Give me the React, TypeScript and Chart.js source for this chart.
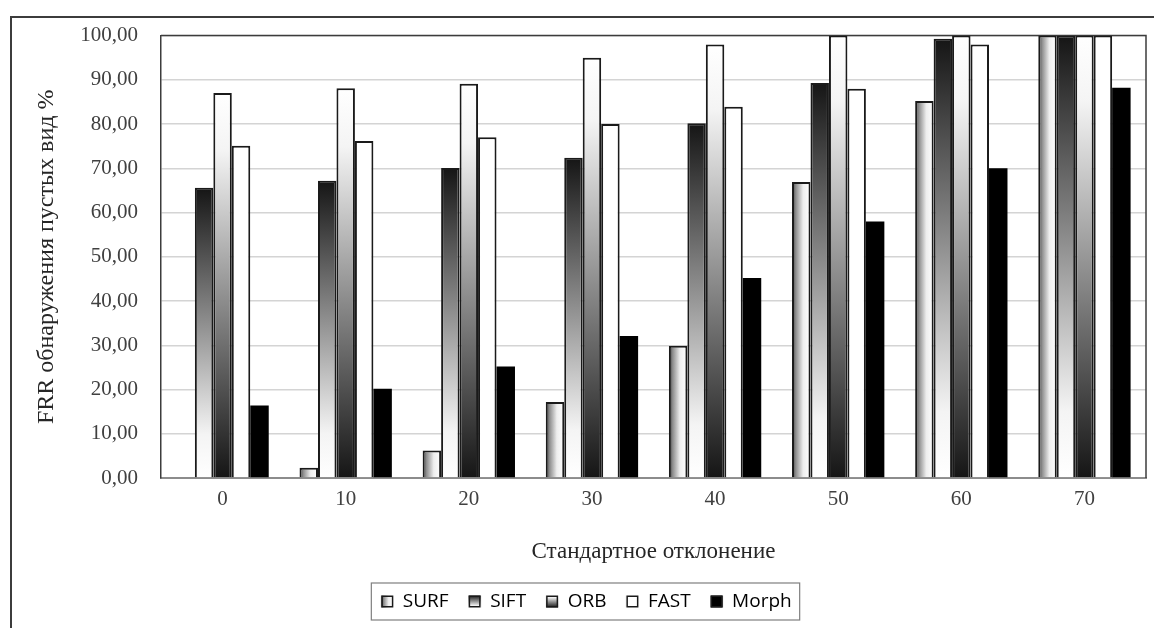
import React, { useEffect, useRef } from "react";
import { Chart, registerables } from "chart.js";

Chart.register(...registerables);

// Standard deviation of the added noise (x axis)
const categories = ["0", "10", "20", "30", "40", "50", "60", "70"];

// FRR, % for each detector
const surfValues = [0, 2.3, 6.2, 17.2, 29.9, 66.9, 85.2, 100];
const siftValues = [65.6, 67.2, 70.1, 72.4, 80.2, 89.3, 99.3, 100];
const orbValues = [87.0, 88.1, 89.1, 95.0, 98.0, 100, 100, 100];
const fastValues = [75.1, 76.2, 77.0, 80.0, 83.9, 88.0, 98.0, 100];
const morphValues = [16.4, 20.2, 25.2, 32.1, 45.2, 58.0, 70.0, 88.2];

const seriesNames = ["SURF", "SIFT", "ORB", "FAST", "Morph"];
const yTicks = [0, 10, 20, 30, 40, 50, 60, 70, 80, 90, 100];

const CAT_PCT = 0.75;
const LEGEND_SHIFT = 8;
const SERIF = "'Liberation Serif', 'Times New Roman', serif";
const SANS = "'Open Sans', 'Noto Sans', sans-serif";

type FillKind = "surf" | "sift" | "orb" | "fast" | "morph";
const kinds: FillKind[] = ["surf", "sift", "orb", "fast", "morph"];

function makeFill(
  ctx: CanvasRenderingContext2D,
  kind: FillKind,
  x0: number,
  y0: number,
  x1: number,
  y1: number
): string | CanvasGradient {
  if (kind === "morph") return "#000000";
  if (kind === "fast") return "#ffffff";
  if (![x0, y0, x1, y1].every((v) => Number.isFinite(v))) return "#bbbbbb";
  if (kind === "surf") {
    const g = ctx.createLinearGradient(x0, 0, x1, 0);
    g.addColorStop(0, "#3a3a3a");
    g.addColorStop(0.2, "#8c8c8c");
    g.addColorStop(0.6, "#eeeeee");
    g.addColorStop(1, "#ffffff");
    return g;
  }
  const g = ctx.createLinearGradient(0, y0, 0, y1);
  if (kind === "sift") {
    g.addColorStop(0, "#151515");
    g.addColorStop(0.45, "#8a8a8a");
    g.addColorStop(0.85, "#f4f4f4");
    g.addColorStop(1, "#ffffff");
  } else {
    g.addColorStop(0, "#ffffff");
    g.addColorStop(0.15, "#f4f4f4");
    g.addColorStop(0.55, "#8a8a8a");
    g.addColorStop(1, "#151515");
  }
  return g;
}

function barFill(kind: FillKind) {
  return (c: any) => {
    const chart = c.chart;
    const xs = chart.scales?.x;
    const ys = chart.scales?.y;
    if (!xs || !ys || c.type !== "data") return "#bbbbbb";
    const v = c.parsed ? c.parsed.y : c.raw;
    const top = ys.getPixelForValue(v);
    const base = ys.getPixelForValue(0);
    const catW = (xs.right - xs.left) / categories.length;
    const group = catW * CAT_PCT;
    const slot = group / seriesNames.length;
    const center = xs.getPixelForValue(c.dataIndex);
    const left = center - group / 2 + slot * c.datasetIndex;
    return makeFill(chart.ctx, kind, left, top, left + slot, base);
  };
}

const framePlugin = {
  id: "frames",
  afterLayout(chart: any) {
    // nudge the legend block to the right
    const legend = chart.legend;
    if (legend) {
      legend.left += LEGEND_SHIFT;
      legend.right += LEGEND_SHIFT;
    }
  },
  beforeDraw(chart: any) {
    const { ctx, width, height } = chart;
    ctx.save();
    ctx.fillStyle = "#ffffff";
    ctx.fillRect(0, 0, width, height);
    // outer chart border
    ctx.strokeStyle = "#3c3c3c";
    ctx.lineWidth = 2;
    ctx.beginPath();
    ctx.moveTo(11, height);
    ctx.lineTo(11, 17);
    ctx.lineTo(width, 17);
    ctx.stroke();
    ctx.restore();
  },
  beforeDatasetsDraw(chart: any) {
    const { ctx, chartArea } = chart;
    ctx.save();
    ctx.strokeStyle = "#3c3c3c";
    ctx.lineWidth = 1.5;
    ctx.beginPath();
    ctx.moveTo(chartArea.left, chartArea.top);
    ctx.lineTo(chartArea.right, chartArea.top);
    ctx.lineTo(chartArea.right, chartArea.bottom);
    ctx.stroke();
    ctx.restore();
  },
  afterDraw(chart: any) {
    const legend = chart.legend;
    if (!legend || !legend.legendHitBoxes || !legend.legendHitBoxes.length) return;
    const { ctx } = chart;
    const boxes = legend.legendHitBoxes;
    const bw = legend.options.labels.boxWidth;
    const bh = legend.options.labels.boxHeight;
    ctx.save();
    boxes.forEach((hb: any, i: number) => {
      const x = hb.left;
      const y = hb.top + (hb.height - bh) / 2;
      ctx.fillStyle = "#ffffff";
      ctx.fillRect(x - 1, y - 1, bw + 2, bh + 2);
      ctx.fillStyle = makeFill(ctx, kinds[i], x, y, x + bw, y + bh);
      ctx.fillRect(x, y, bw, bh);
      ctx.strokeStyle = "#1a1a1a";
      ctx.lineWidth = 1.5;
      ctx.strokeRect(x + 0.75, y + 0.75, bw - 1.5, bh - 1.5);
    });
    // legend frame
    const first = boxes[0];
    const last = boxes[boxes.length - 1];
    const fx = first.left - 10;
    const fr = last.left + last.width + 8;
    const fy = first.top - 9;
    const fb = first.top + first.height + 9;
    ctx.strokeStyle = "#7f7f7f";
    ctx.lineWidth = 1.2;
    ctx.strokeRect(fx, fy, fr - fx, fb - fy);
    ctx.restore();
  },
};

export default function App() {
  const ref = useRef<HTMLCanvasElement>(null);

  useEffect(() => {
    if (!ref.current) return;
    const seriesValues = [surfValues, siftValues, orbValues, fastValues, morphValues];
    const chart = new Chart(ref.current, {
      type: "bar",
      data: {
        labels: categories,
        datasets: seriesNames.map((name, i) => ({
          label: name,
          data: seriesValues[i],
          backgroundColor: barFill(kinds[i]),
          borderColor: i === 4 ? "#000000" : "#1a1a1a",
          borderWidth: i === 4 ? 0 : 2,
          borderSkipped: "bottom",
          categoryPercentage: CAT_PCT,
          barPercentage: 1,
        })),
      },
      options: {
        responsive: false,
        animation: false,
        devicePixelRatio: 1,
        layout: { padding: { left: 11, top: 34, right: 8, bottom: 7 } },
        font: { family: SERIF },
        plugins: {
          tooltip: { enabled: false },
          legend: {
            position: "bottom",
            labels: {
              font: { family: SANS, size: 19 },
              color: "#000000",
              boxWidth: 12,
              boxHeight: 12,
              padding: 20,
              generateLabels: () =>
                seriesNames.map((name, i) => ({
                  text: name,
                  fillStyle: "#ffffff",
                  strokeStyle: "#1a1a1a",
                  lineWidth: 1,
                  hidden: false,
                  datasetIndex: i,
                  fontColor: "#000000",
                })),
            },
          },
        },
        scales: {
          x: {
            grid: { display: false, drawTicks: false },
            border: { display: true, color: "#8c8c8c", width: 2 },
            ticks: {
              padding: 9,
              color: "#404040",
              font: { family: SERIF, size: 21 },
            },
            title: {
              display: true,
              text: "Стандартное отклонение",
              color: "#262626",
              font: { family: SERIF, size: 23 },
              padding: { top: 0, bottom: 6 },
            },
            afterFit: (scale: any) => {
              scale.height = 94;
            },
          },
          y: {
            min: 0,
            max: 100,
            afterBuildTicks: (scale: any) => {
              scale.ticks = yTicks.map((v) => ({ value: v }));
            },
            grid: { color: "#d4d4d4", lineWidth: 1.5, drawTicks: false },
            border: { display: true, color: "#3c3c3c", width: 1.5 },
            ticks: {
              padding: 23,
              color: "#404040",
              font: { family: SERIF, size: 21 },
              callback: (v: any) => Number(v).toFixed(2).replace(".", ","),
            },
            title: {
              display: true,
              text: "FRR обнаружения пустых вид %",
              color: "#262626",
              font: { family: SERIF, size: 24 },
              padding: { top: 21, bottom: 0 },
            },
            afterFit: (scale: any) => {
              scale.width = 150;
            },
          },
        },
      },
      plugins: [framePlugin],
    });
    return () => chart.destroy();
  }, []);

  return (
    <div style={{ position: "absolute", left: 0, top: 0, width: 1154, height: 628, background: "#fff" }}>
      <canvas ref={ref} width={1154} height={628} style={{ display: "block", width: 1154, height: 628 }} />
    </div>
  );
}
